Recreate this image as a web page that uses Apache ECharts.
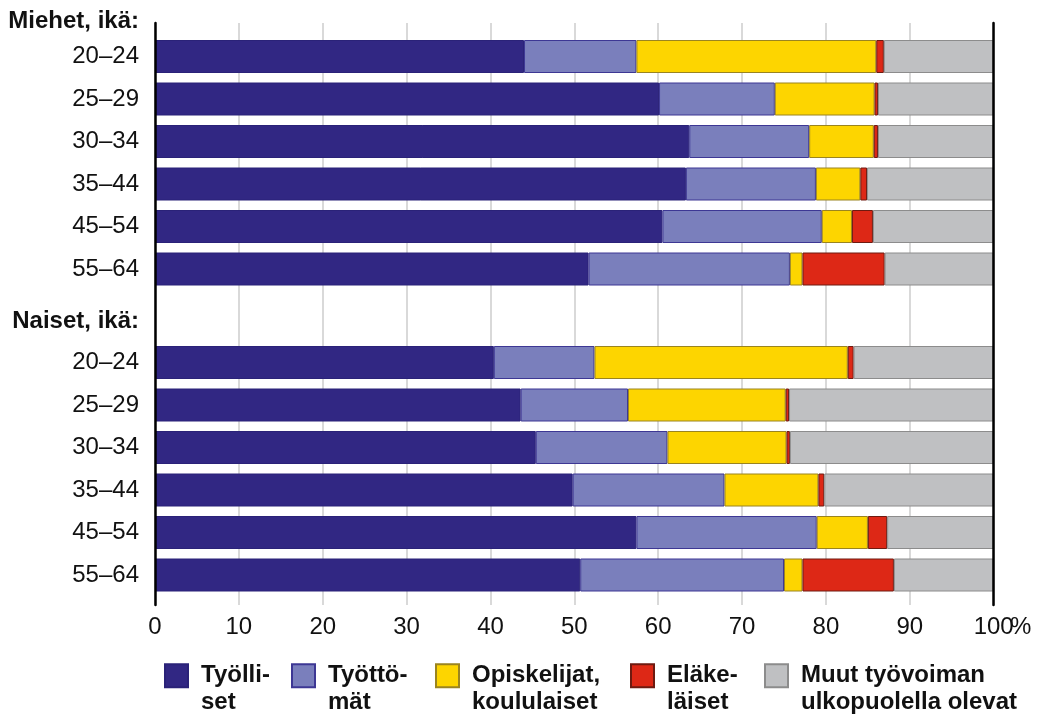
<!DOCTYPE html>
<html><head><meta charset="utf-8">
<script src="https://cdn.jsdelivr.net/npm/echarts@6/dist/echarts.min.js"></script>
<style>html,body{margin:0;padding:0;background:#fff}#c{width:1038px;height:714px}</style>
</head><body><div id="c"></div>
<script>
// ---- data ----
const ageGroups = ['20–24', '25–29', '30–34', '35–44', '45–54', '55–64'];
const groupHeaders = ['Miehet, ikä:', 'Naiset, ikä:'];
const seriesNames = ['Työlliset', 'Työttömät', 'Opiskelijat, koululaiset', 'Eläkeläiset', 'Muut työvoiman ulkopuolella olevat'];
const legendLabels = ['Työlli-\nset', 'Työttö-\nmät', 'Opiskelijat,\nkoululaiset', 'Eläke-\nläiset', 'Muut työvoiman\nulkopuolella olevat'];
const unitLabel = '%';

// Miehet
const menEmployed   = [44.0, 60.1, 63.7, 63.3, 60.5, 51.7];
const menUnemployed = [13.4, 13.8, 14.3, 15.5, 19.0, 24.0];
const menStudents   = [28.6, 11.9,  7.7,  5.3,  3.6,  1.5];
const menRetired    = [ 0.9,  0.4,  0.5,  0.8,  2.5,  9.8];
const menOther      = [13.1, 13.8, 13.8, 15.1, 14.4, 13.0];
// Naiset
const womenEmployed   = [40.4, 43.6, 45.4, 49.8, 57.4, 50.7];
const womenUnemployed = [12.0, 12.8, 15.7, 18.1, 21.5, 24.3];
const womenStudents   = [30.2, 18.8, 14.2, 11.2,  6.1,  2.2];
const womenRetired    = [ 0.7,  0.4,  0.4,  0.7,  2.3, 10.9];
const womenOther      = [16.7, 24.4, 24.3, 20.2, 12.7, 11.9];

// ---- styles ----
const FONT = '"Liberation Sans", Arial, sans-serif';
const fills   = ['#312783', '#7a7fbc', '#fdd500', '#dd2816', '#bfc0c2'];
const borders = ['#2a2278', '#3d3794', '#9a8420', '#6e1a10', '#8c8c8c'];
const legendLeft = [164, 291, 435, 630, 764];

const PL = 155, PR = 1038 - 993.7;

function mkSeries(gi, arrs) {
  return arrs.map((d, i) => ({
    name: seriesNames[i], type: 'bar', stack: 'g' + gi,
    xAxisIndex: gi + 1, yAxisIndex: gi + 2,
    barWidth: 33, data: d,
    itemStyle: { color: fills[i], borderColor: borders[i], borderWidth: 1 },
    emphasis: { disabled: true }
  }));
}

const chart = echarts.init(document.getElementById('c'));
chart.setOption({
  animation: false,
  backgroundColor: '#fff',
  textStyle: { fontFamily: FONT },
  grid: [
    { left: PL, right: PR, top: 23, bottom: 109 },
    { left: PL, right: PR, top: 35.25, height: 255 },
    { left: PL, right: PR, top: 341.25, height: 255 }
  ],
  xAxis: [
    { type: 'value', gridIndex: 0, min: 0, max: 100, interval: 10,
      axisLine: { show: false }, axisTick: { show: false },
      splitLine: { show: true, lineStyle: { color: '#cdcdcd', width: 1.5 } },
      axisLabel: { fontSize: 24, color: '#111', margin: 10, fontFamily: FONT } },
    { type: 'value', gridIndex: 1, min: 0, max: 100, show: false },
    { type: 'value', gridIndex: 2, min: 0, max: 100, show: false }
  ],
  yAxis: [
    { type: 'value', gridIndex: 0, min: 0, max: 1, position: 'left', z: 5,
      axisLine: { show: true, onZero: false, lineStyle: { color: '#000', width: 2.5 } },
      axisTick: { show: false }, axisLabel: { show: false }, splitLine: { show: false } },
    { type: 'value', gridIndex: 0, min: 0, max: 1, position: 'right', z: 5,
      axisLine: { show: true, onZero: false, lineStyle: { color: '#000', width: 2.5 } },
      axisTick: { show: false }, axisLabel: { show: false }, splitLine: { show: false } },
    { type: 'category', gridIndex: 1, data: ageGroups, inverse: true,
      axisLine: { show: false }, axisTick: { show: false },
      axisLabel: { fontSize: 24, color: '#111', margin: 16, fontFamily: FONT } },
    { type: 'category', gridIndex: 2, data: ageGroups, inverse: true,
      axisLine: { show: false }, axisTick: { show: false },
      axisLabel: { fontSize: 24, color: '#111', margin: 16, fontFamily: FONT } }
  ],
  legend: seriesNames.map((n, i) => ({
    data: [n], left: legendLeft[i], top: 636, padding: 0,
    itemWidth: 23, itemHeight: 23, icon: 'rect', selectedMode: false,
    formatter: () => '\n' + legendLabels[i],
    textStyle: { fontSize: 24, fontWeight: 'bold', lineHeight: 26.5, color: '#111',
      fontFamily: FONT, padding: [0, 0, 0, 8] }
  })),
  graphic: [
    { type: 'text', x: 139, y: 21, style: { text: groupHeaders[0], align: 'right', verticalAlign: 'middle',
      font: 'bold 24px ' + FONT, fill: '#111' } },
    { type: 'text', x: 139, y: 321, style: { text: groupHeaders[1], align: 'right', verticalAlign: 'middle',
      font: 'bold 24px ' + FONT, fill: '#111' } },
    { type: 'text', x: 1010, y: 627, style: { text: unitLabel, align: 'left', verticalAlign: 'middle',
      font: '24px ' + FONT, fill: '#111' } }
  ],
  series: [
    ...mkSeries(0, [menEmployed, menUnemployed, menStudents, menRetired, menOther]),
    ...mkSeries(1, [womenEmployed, womenUnemployed, womenStudents, womenRetired, womenOther])
  ]
});
</script></body></html>
